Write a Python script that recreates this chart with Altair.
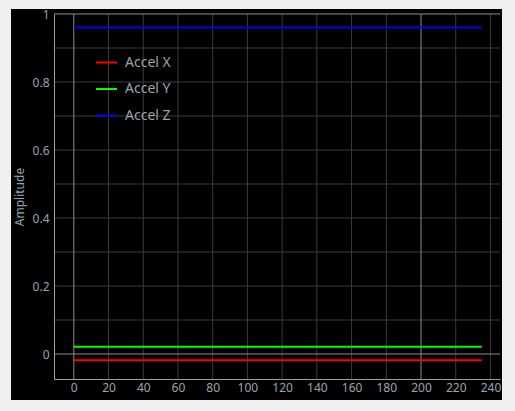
import altair as alt
import pandas as pd

# ---- data ----
series_names = ["Accel X", "Accel Y", "Accel Z"]
series_colors = ["#ff0000", "#00ff00", "#0000ff"]
time_points = [0, 235]
accel_x = [-0.018, -0.018]
accel_y = [0.021, 0.021]
accel_z = [0.96, 0.96]

x_ticks = [0, 20, 40, 60, 80, 100, 120, 140, 160, 180, 200, 220, 240]
y_ticks = [0, 0.2, 0.4, 0.6, 0.8, 1.0]
x_grid = [20, 40, 60, 80, 100, 120, 140, 160, 180, 220, 240]
y_grid = [0.1, 0.2, 0.3, 0.4, 0.5, 0.6, 0.7, 0.8, 0.9]
x_major = [0, 200]
y_major = [0, 1.0]

x_domain = [-11.4, 245.5]
y_domain = [-0.0735, 1.0]

rows = []
for name, vals in zip(series_names, [accel_x, accel_y, accel_z]):
    for t, v in zip(time_points, vals):
        rows.append({"t": t, "value": v, "series": name})
df = pd.DataFrame(rows)

LABEL = "#9aa4ae"
FONT = "Noto Sans"

xs = alt.Scale(domain=x_domain, nice=False, zero=False)
ys = alt.Scale(domain=y_domain, nice=False, zero=False)

x_axis = alt.Axis(values=x_ticks, format="d", grid=False, ticks=False,
                  labelOverlap=False, labelFlush=False, labelBound=False,
                  domainColor="#a0a0a0", labelColor=LABEL, labelFont=FONT,
                  labelFontSize=12, labelPadding=3, zindex=1)
y_axis = alt.Axis(values=y_ticks, format="~g", grid=False, ticks=False,
                  labelOverlap=False, labelFlush=False,
                  domainColor="#a0a0a0", labelColor=LABEL, labelFont=FONT,
                  labelFontSize=12, labelPadding=5, titleColor=LABEL,
                  titleFont=FONT, titleFontSize=12, titleFontWeight="normal",
                  titlePadding=6, zindex=1)

panel = alt.Chart(alt.Data(values=[{"a": 1}])).mark_rect(color="#000000").encode(
    x=alt.value(-43), x2=alt.value(448), y=alt.value(-5), y2=alt.value(386)
)

vgrid = alt.Chart(pd.DataFrame({"g": x_grid})).mark_rule(color="#3c3c3c", strokeWidth=1).encode(
    x=alt.X("g:Q", scale=xs, axis=x_axis, title=None)
)
hgrid = alt.Chart(pd.DataFrame({"g": y_grid})).mark_rule(color="#3c3c3c", strokeWidth=1).encode(
    y=alt.Y("g:Q", scale=ys, axis=y_axis, title="Amplitude")
)
vmajor = alt.Chart(pd.DataFrame({"g": x_major})).mark_rule(color="#8c8c8c", strokeWidth=1).encode(
    x=alt.X("g:Q", scale=xs, axis=x_axis, title=None)
)
hmajor = alt.Chart(pd.DataFrame({"g": y_major})).mark_rule(color="#8c8c8c", strokeWidth=1).encode(
    y=alt.Y("g:Q", scale=ys, axis=y_axis, title="Amplitude")
)

lines = alt.Chart(df).mark_line(strokeWidth=2).encode(
    x=alt.X("t:Q", scale=xs, title=None, axis=x_axis),
    y=alt.Y("value:Q", scale=ys, title="Amplitude", axis=y_axis),
    color=alt.Color("series:N", scale=alt.Scale(domain=series_names, range=series_colors),
                    sort=series_names,
                    legend=alt.Legend(title=None, orient="none", legendX=41, legendY=37,
                                      symbolType="stroke", symbolSize=441, symbolStrokeWidth=2,
                                      labelColor=LABEL, labelFont=FONT, labelFontSize=14,
                                      labelOffset=7, rowPadding=7.5, padding=0)),
)

chart = alt.layer(panel, vgrid, hgrid, vmajor, hmajor, lines).properties(
    width=446, height=365,
    autosize=alt.AutoSizeParams(type="none"),
    padding={"left": 54, "top": 14, "right": 15, "bottom": 32},
    background="#f0f0f0",
).configure_view(stroke=None)

chart.save("out.html", embed_options={"renderer": "svg", "actions": False})
